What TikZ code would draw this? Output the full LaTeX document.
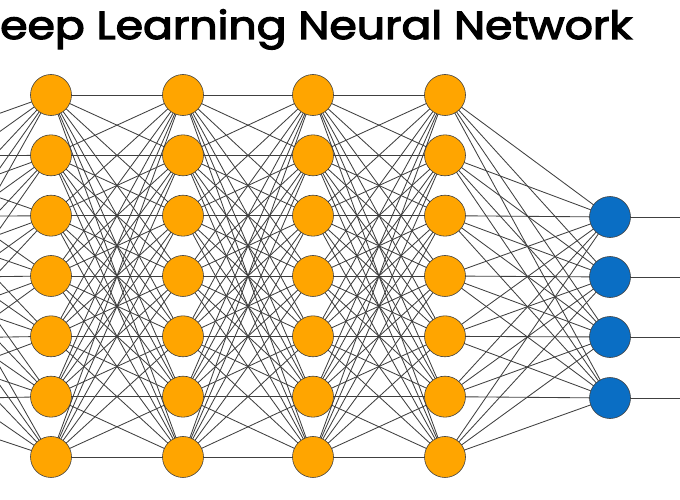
\documentclass[tikz,border=0pt]{standalone}
\usepackage{fontspec}
\newfontfamily\titlefont{Poppins}[FakeBold=3]
\usetikzlibrary{backgrounds}
\definecolor{orangeN}{HTML}{FFA500}
\definecolor{blueN}{HTML}{0A6EC4}
\begin{document}
\begin{tikzpicture}[x=1pt,y=-1pt,
  hid/.style={circle,draw=black!75,line width=0.6pt,fill=orangeN,minimum size=41pt,inner sep=0pt},
  outn/.style={circle,draw=black!75,line width=0.6pt,fill=blueN,minimum size=41pt,inner sep=0pt},
  edge/.style={draw=black!75,line width=0.85pt}]
\useasboundingbox (0,0) rectangle (680,500);
\clip (0,0) rectangle (680,500);
\node[anchor=base west,inner sep=0pt] (title) at (0,39)
  {\resizebox{632pt}{\height}{\fontsize{39pt}{44pt}\titlefont eep Learning Neural Network}};
% input coordinates (off-picture)
\foreach \r in {1,...,5}
  \coordinate (in\r) at (-120,{156+61*(\r-1)});
% hidden layers
\foreach \c/\x in {1/51,2/183,3/313,4/445}
  \foreach \r in {1,...,7}
    \node[hid] (h\c-\r) at (\x,{95+60.33*(\r-1)}) {};
% output layer
\foreach \r/\y in {1/217,2/277,3/337,4/398} {
  \node[outn] (o\r) at (610,\y) {};
  \coordinate (e\r) at (700,\y);
}
\begin{pgfonlayer}{background}
  \foreach \a in {1,...,5}
    \foreach \b in {1,...,7}
      \draw[edge] (in\a) -- (h1-\b.center);
  \foreach \c/\n in {1/2,2/3,3/4}
    \foreach \a in {1,...,7}
      \foreach \b in {1,...,7}
        \draw[edge] (h\c-\a.center) -- (h\n-\b.center);
  \foreach \a in {1,...,7}
    \foreach \b in {1,...,4}
      \draw[edge] (h4-\a.center) -- (o\b.center);
  \foreach \b in {1,...,4}
    \draw[edge] (o\b.center) -- (e\b);
\end{pgfonlayer}
\end{tikzpicture}
\end{document}
